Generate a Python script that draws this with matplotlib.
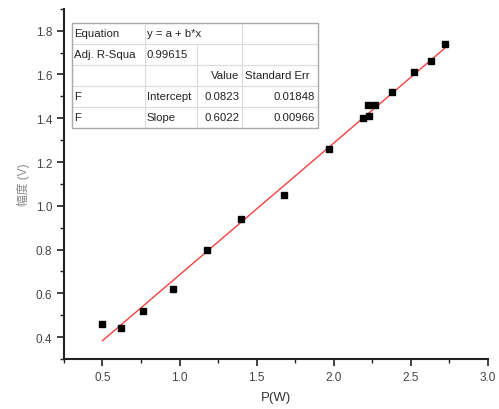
import numpy as np
import matplotlib.pyplot as plt
import matplotlib.patches as mpatches
from matplotlib.ticker import MultipleLocator

plt.rcParams['font.family'] = ['Liberation Sans', 'Noto Sans CJK SC', 'DejaVu Sans']

# measured points
p_w = [0.50, 0.62, 0.76, 0.96, 1.18, 1.40, 1.68, 1.97, 2.19, 2.22, 2.23, 2.27, 2.38, 2.52, 2.63, 2.72]
amp_v = [0.46, 0.44, 0.52, 0.62, 0.80, 0.94, 1.05, 1.26, 1.40, 1.46, 1.41, 1.46, 1.52, 1.61, 1.66, 1.74]

# linear fit results
a_fit = 0.0823
b_fit = 0.6022

table_rows = [
    ['Equation', 'y = a + b*x', '', ''],
    ['Adj. R-Squa', '0.99615', '', ''],
    ['', '', 'Value', 'Standard Err'],
    ['F', 'Intercept', '0.0823', '0.01848'],
    ['F', 'Slope', '0.6022', '0.00966'],
]

fig = plt.figure(figsize=(4.99, 4.10), dpi=100)
ax = fig.add_axes([0.128, 0.122, 0.850, 0.854])

ax.plot(p_w, amp_v, 's', color='black', markersize=5, zorder=3)
xf = np.linspace(min(p_w), max(p_w), 50)
ax.plot(xf, a_fit + b_fit * xf, color='#f04040', lw=1.0, zorder=2)

ax.set_xlim(0.25, 3.0)
ax.set_ylim(0.3, 1.9)
ax.xaxis.set_major_locator(MultipleLocator(0.5))
ax.xaxis.set_minor_locator(MultipleLocator(0.25))
ax.yaxis.set_major_locator(MultipleLocator(0.2))
ax.yaxis.set_minor_locator(MultipleLocator(0.1))
ax.set_xticks([0.5, 1.0, 1.5, 2.0, 2.5, 3.0])
ax.set_yticks([0.4, 0.6, 0.8, 1.0, 1.2, 1.4, 1.6, 1.8])
ax.spines['right'].set_visible(False)
ax.spines['top'].set_visible(False)
for s in ['left', 'bottom']:
    ax.spines[s].set_linewidth(1.5)
    ax.spines[s].set_color('#222222')
ax.tick_params(which='major', direction='out', length=5, width=1.2, labelsize=8.5,
               labelcolor='#444444', color='#222222')
ax.tick_params(which='minor', direction='out', length=3, width=1.0, color='#222222')

ax.set_xlabel('P(W)', fontsize=9.5, color='#333333', labelpad=6)
ax.set_ylabel('幅度 (V)', fontsize=8.5, color='#888888', labelpad=4)

# white background under the table
ax.add_patch(mpatches.Rectangle((0.018, 0.66), 0.58, 0.30, transform=ax.transAxes,
                                facecolor='white', edgecolor='none', zorder=4))

tab = ax.table(cellText=table_rows, bbox=[0.018, 0.66, 0.58, 0.30],
               colWidths=[73, 52, 45, 76], cellLoc='left')
tab.set_zorder(5)
tab.auto_set_font_size(False)
tab.set_fontsize(8.2)
for (r, c), cell in tab.get_celld().items():
    cell.set_edgecolor('#dddddd')
    cell.set_facecolor('none')
    cell.set_linewidth(0.8)
    cell.PAD = 0.04
    cell.get_text().set_color('#222222')
    if r >= 2 and c >= 2:
        cell.get_text().set_horizontalalignment('right')
        cell._loc = 'right'
    if r == 2 and c == 3:
        cell._loc = 'left'
        cell.get_text().set_horizontalalignment('left')
# equation text spans two cells
tab[0, 1].visible_edges = 'BLT'
tab[0, 2].visible_edges = 'BRT'

# outer frame of the table
ax.add_patch(mpatches.Rectangle((0.018, 0.66), 0.58, 0.30, transform=ax.transAxes,
                                fill=False, edgecolor='#aaaaaa', lw=1.0, zorder=6))

plt.savefig('out.png', dpi=100)
